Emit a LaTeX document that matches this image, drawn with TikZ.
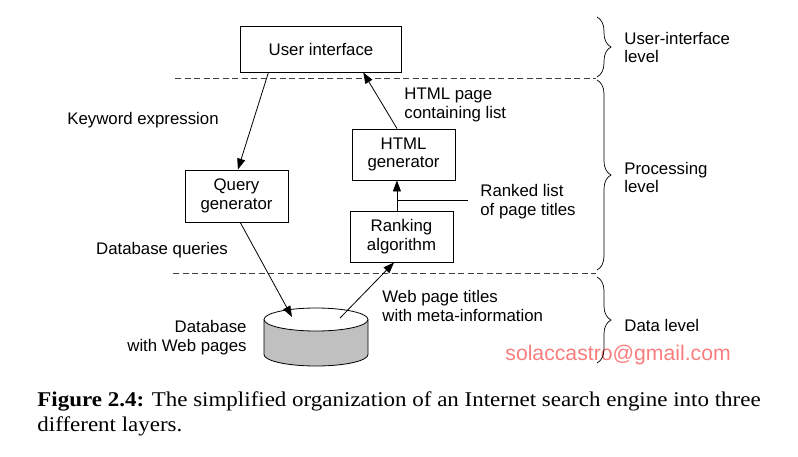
\documentclass[tikz,border=0pt]{standalone}
\usepackage{fontspec}
\setmainfont{Liberation Serif}
\newfontfamily\capfont[FakeStretch=1.094]{Liberation Serif}
\newfontfamily\diagfont{Liberation Sans}
\usetikzlibrary{arrows.meta,decorations.pathreplacing,calc}
\definecolor{wmark}{RGB}{250,125,125}
\definecolor{dbgray}{RGB}{192,192,192}

\begin{document}
\begin{tikzpicture}[x=1pt,y=-1pt,line width=0.8pt]
  \useasboundingbox (0,0) rectangle (798,456);

  % boxes
  \begin{scope}[every node/.style={draw, align=center, inner sep=0pt,
      font=\diagfont\fontsize{16.8}{18.5}\selectfont}]
    \node[minimum width=161pt, minimum height=46pt] (ui) at (321,49)    {User interface};
    \node[minimum width=103pt, minimum height=52pt] (qg) at (236.5,196) {Query\\generator};
    \node[minimum width=103pt, minimum height=51pt] (hg) at (403.5,154.5) {HTML\\generator};
    \node[minimum width=103pt, minimum height=51pt] (rk) at (401.5,236.5) {Ranking\\algorithm};
  \end{scope}

  % level separators
  \draw[black!75, line width=0.7pt, dash pattern=on 6pt off 3.5pt] (175,78) -- (596,78);
  \draw[black!75, line width=0.7pt, dash pattern=on 6pt off 3.5pt] (173,273) -- (596,273);

  % database
  \draw[fill=dbgray] (264,319.5) -- (264,354.5)
    arc[start angle=180, end angle=0, x radius=52, y radius=11.5] -- (368,319.5);
  \draw[fill=white] (316,319.5) ellipse[x radius=52, y radius=11.5];
  \coordinate (dbin)  at (292,317);
  \coordinate (dbout) at (340,318);

  % labels
  \begin{scope}[every node/.style={align=left, inner sep=0pt,
      font=\diagfont\fontsize{16.8}{18.5}\selectfont}]
    \node (kw) at (143,120) {Keyword expression};
    \node[anchor=west] (hp) at (404,105) {HTML page\\containing list};
    \node[anchor=west] (rt) at (480,201.5) {Ranked list\\of page titles};
    \node (dq) at (162,250) {Database queries};
    \node[anchor=west] (wt) at (382,306) {Web page titles\\with meta-information};
    \node[anchor=east, align=right] (dw) at (247,337.5) {Database\\with Web pages};
    \node[anchor=west] (l1) at (624,47.5)  {User-interface\\level};
    \node[anchor=west] (l2) at (624,177.5) {Processing\\level};
    \node[anchor=west] (l3) at (624,325)   {Data level};
  \end{scope}

  \node[anchor=west, inner sep=0pt, text=wmark,
    font=\diagfont\fontsize{21.2}{24}\selectfont] (wm) at (505,355) {solaccastro@gmail.com};

  % arrows
  \begin{scope}[every edge/.style={draw, -{Triangle[length=11pt,width=8pt]}}]
    \path (ui.204) edge (qg.87);
    \path (hg.104) edge (ui.-29);
    \path (rk.100) edge (rk.100 |- hg.south);
    \path (qg.-82) edge (dbin);
    \path (dbout)  edge (rk.-106);
  \end{scope}
  \coordinate (rl) at ($(rk.100)!0.35!(rk.100 |- hg.south)$);
  \draw[shorten >=12pt] (rl) -- (rl -| rt.west);

  % level braces
  \begin{scope}[line width=0.7pt, decoration={brace, amplitude=14pt}]
    \draw[decorate] (597,17)  -- (597,77);
    \draw[decorate] (597,80)  -- (597,270);
    \draw[decorate] (597,277) -- (597,363);
  \end{scope}

  % caption
  \node[anchor=base west, inner sep=0pt, font=\capfont\fontsize{21}{25}\selectfont] (cap1) at (37,406)
    {\textbf{Figure 2.4:} The simplified organization of an Internet search engine into three};
  \node[anchor=base west, inner sep=0pt, font=\capfont\fontsize{21}{25}\selectfont] (cap2) at (37,431)
    {different layers.};

\end{tikzpicture}
\end{document}
